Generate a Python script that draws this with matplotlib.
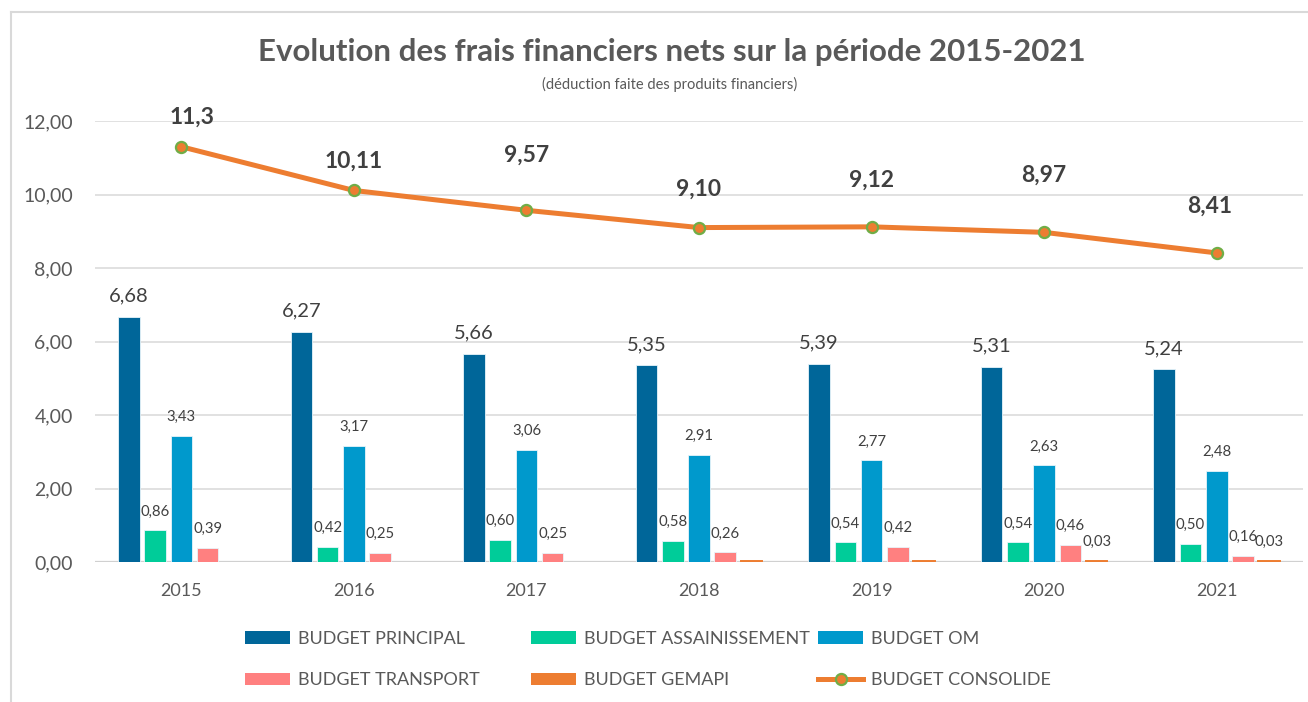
import numpy as np
import matplotlib
matplotlib.use("Agg")
import matplotlib.pyplot as plt
from matplotlib.lines import Line2D
from matplotlib.patches import Patch

plt.rcParams["font.family"] = ["Lato", "DejaVu Sans"]

years = ["2015", "2016", "2017", "2018", "2019", "2020", "2021"]
budget_principal = [6.68, 6.27, 5.66, 5.35, 5.39, 5.31, 5.24]
budget_assainissement = [0.86, 0.42, 0.60, 0.58, 0.54, 0.54, 0.50]
budget_om = [3.43, 3.17, 3.06, 2.91, 2.77, 2.63, 2.48]
budget_transport = [0.39, 0.25, 0.25, 0.26, 0.42, 0.46, 0.16]
budget_gemapi = [0.0, 0.0, 0.0, 0.03, 0.03, 0.03, 0.03]
gemapi_labelled = [False, False, False, False, False, True, True]
budget_consolide = [11.3, 10.11, 9.57, 9.10, 9.12, 8.97, 8.41]
consolide_labels = ["11,3", "10,11", "9,57", "9,10", "9,12", "8,97", "8,41"]

# label offsets above the line points (points), as placed in the original
consolide_label_dy = [21.6, 20.9, 39.6, 27.4, 33.8, 41.0, 33.8]
consolide_label_dx = [8, 0, 0, 0, 0, 0, -5]

series = [
    ("BUDGET PRINCIPAL", budget_principal, "#006699"),
    ("BUDGET ASSAINISSEMENT", budget_assainissement, "#00CC99"),
    ("BUDGET OM", budget_om, "#0099CC"),
    ("BUDGET TRANSPORT", budget_transport, "#FF8080"),
    ("BUDGET GEMAPI", budget_gemapi, "#ED7D31"),
]

GRAY = "#595959"
DARK = "#404040"

fig = plt.figure(figsize=(13.08, 7.02), dpi=100)
ax = fig.add_axes([95 / 1308, 1 - 562 / 702, (1303 - 95) / 1308, (562 - 121) / 702])

x = np.arange(len(years))
width = 0.125
pitch = 0.152

handles = []
for i, (name, vals, color) in enumerate(series):
    pos = x + (i - 2) * pitch
    if name == "BUDGET GEMAPI":
        # tiny values: outline in the same colour so they stay visible
        ax.bar(pos, vals, width=width, color=color, edgecolor=[color if v > 0 else "none" for v in vals],
               linewidth=1.4, zorder=3)
    else:
        ax.bar(pos, vals, width=width, color=color, edgecolor="#E8F4FA", linewidth=0.6, zorder=3)
    handles.append(Patch(facecolor=color, edgecolor="none", label=name))
    for j, (px, v) in enumerate(zip(pos, vals)):
        if v <= 0:
            continue
        if name == "BUDGET GEMAPI" and not gemapi_labelled[j]:
            continue
        txt = f"{v:.2f}".replace(".", ",")
        if i == 0:
            ax.annotate(txt, (px, v), xytext=(0, 15), textcoords="offset points",
                        ha="center", va="center", fontsize=14.5, color=DARK, zorder=5)
        else:
            ax.annotate(txt, (px, v), xytext=(0, 13.5), textcoords="offset points",
                        ha="center", va="center", fontsize=10.7, color=DARK, zorder=5)

ax.plot(x, budget_consolide, color="#ED7D31", linewidth=3.6, marker="o", markersize=8,
        markerfacecolor="#ED7D31", markeredgecolor="#70AD47", markeredgewidth=1.6, zorder=4)
for j, (v, lab) in enumerate(zip(budget_consolide, consolide_labels)):
    ax.annotate(lab, (x[j], v), xytext=(consolide_label_dx[j], consolide_label_dy[j]),
                textcoords="offset points", ha="center", va="center",
                fontsize=16.5, fontweight="bold", color=DARK, zorder=5)

line_handle = Line2D([], [], color="#ED7D31", linewidth=3.6, marker="o", markersize=8,
                     markerfacecolor="#ED7D31", markeredgecolor="#70AD47", markeredgewidth=1.6,
                     label="BUDGET CONSOLIDE")

ax.set_xlim(-0.5, len(years) - 0.5)
ax.set_ylim(0, 12)
ax.set_yticks(np.arange(0, 13, 2))
ax.set_yticklabels([f"{t:.2f}".replace(".", ",") for t in np.arange(0, 13, 2)])
ax.set_xticks(x)
ax.set_xticklabels(years)
ax.tick_params(axis="both", length=0, labelcolor=GRAY)
ax.tick_params(axis="y", pad=16, labelsize=14)
ax.tick_params(axis="x", pad=15, labelsize=13)
for s in ax.spines.values():
    s.set_visible(False)
ax.yaxis.grid(True, color="#D9D9D9", linewidth=1.1, zorder=0)
ax.set_axisbelow(True)
ax.axhline(0, color="#D0D0D0", linewidth=1.6, zorder=2)

fig.text(0.514, 1 - 52 / 702, "Evolution des frais financiers nets sur la période 2015-2021",
         ha="center", va="center", fontsize=22.5, fontweight="bold", color=GRAY)
fig.text(0.512, 1 - 84 / 702, "(déduction faite des produits financiers)",
         ha="center", va="center", fontsize=10.5, color=GRAY)

# legend: three fixed-position columns like the original
legend_cols = [
    ([handles[0], handles[3]], 245),
    ([handles[1], handles[4]], 531),
    ([handles[2], line_handle], 818),
]
for hs, xpix in legend_cols:
    leg = fig.legend(handles=hs, loc="upper left", bbox_to_anchor=(xpix / 1308, 1 - 631 / 702),
                     frameon=False, fontsize=13, borderpad=0, borderaxespad=0,
                     handlelength=2.5, handletextpad=0.45, labelspacing=1.4)
    for t in leg.get_texts():
        t.set_color(GRAY)

# chart frame (top and left edges visible)
fig.add_artist(Line2D([11 / 1308, 1], [1 - 12 / 702, 1 - 12 / 702], color="#D9D9D9", linewidth=1.5))
fig.add_artist(Line2D([11 / 1308, 11 / 1308], [0, 1 - 12 / 702], color="#D9D9D9", linewidth=1.5))

fig.savefig("out.png", dpi=100)
